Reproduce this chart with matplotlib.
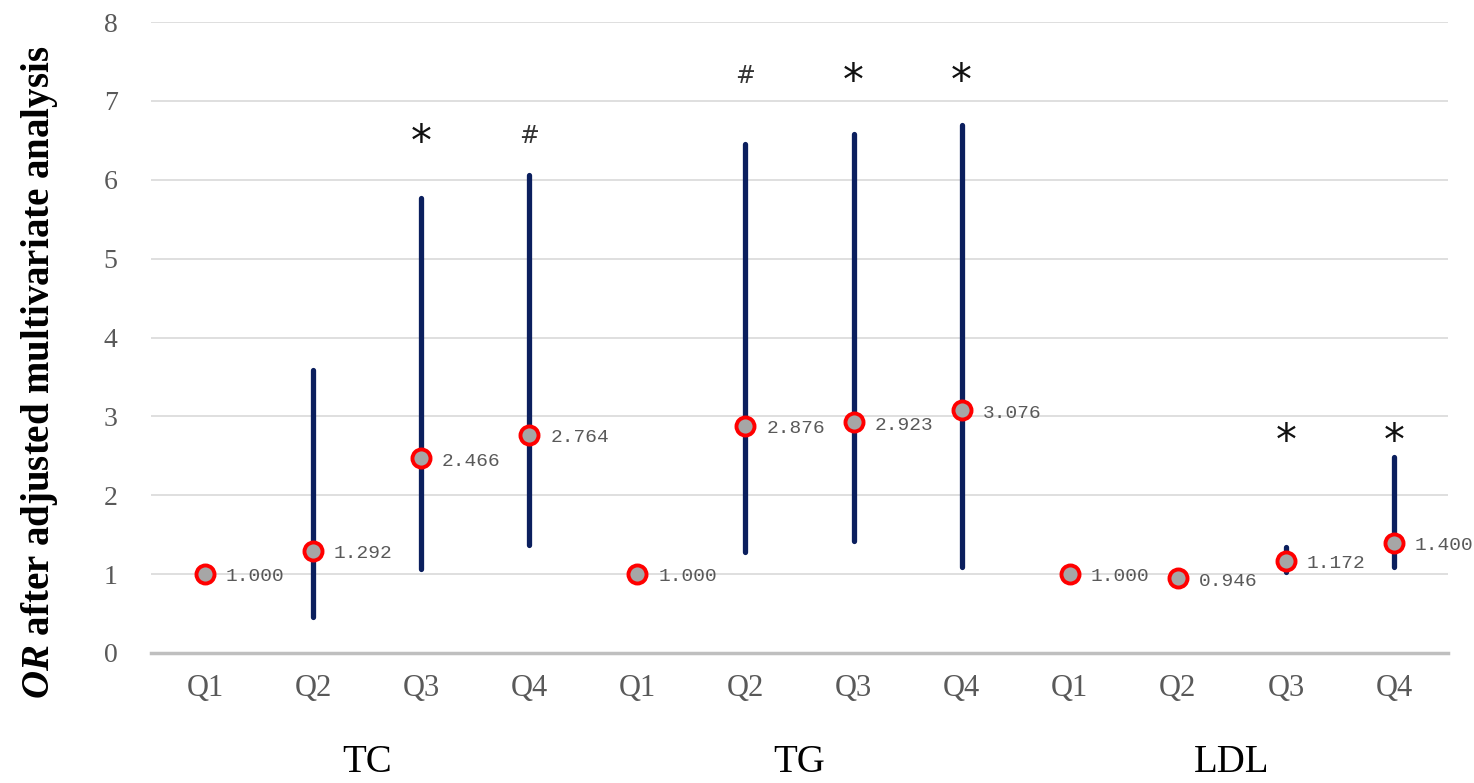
import matplotlib
matplotlib.use("Agg")
import matplotlib.pyplot as plt
import numpy as np

plt.rcParams['mathtext.fontset'] = 'custom'
plt.rcParams['mathtext.bfit'] = 'Liberation Serif:italic:bold'
plt.rcParams['mathtext.rm'] = 'Liberation Serif:bold'
plt.rcParams['mathtext.bf'] = 'Liberation Serif:bold'

# ---- data ----
groups = ["TC", "TG", "LDL"]
quartiles = ["Q1", "Q2", "Q3", "Q4"]
or_values = [1.000, 1.292, 2.466, 2.764,
             1.000, 2.876, 2.923, 3.076,
             1.000, 0.946, 1.172, 1.400]
ci_lower = [np.nan, 0.46, 1.06, 1.37,
            np.nan, 1.28, 1.42, 1.09,
            np.nan, np.nan, 1.03, 1.09]
ci_upper = [np.nan, 3.59, 5.77, 6.06,
            np.nan, 6.45, 6.58, 6.70,
            np.nan, np.nan, 1.35, 2.49]
signif = ["", "", "*", "#",
          "", "#", "*", "*",
          "", "", "*", "*"]
y_ticks = [0, 1, 2, 3, 4, 5, 6, 7, 8]

# ---- figure ----
fig = plt.figure(figsize=(14.74, 7.83), dpi=100)
ax = fig.add_axes([151/1474, 1 - 653/783, (1448-151)/1474, (653-22)/783])

n = len(or_values)
x = np.arange(n)
ax.set_xlim(-0.5, n - 0.5)
ax.set_ylim(0, 8)

ax.set_axisbelow(True)
ax.yaxis.grid(True, color='#D9D9D9', linewidth=1.2)
for s in ['top', 'right', 'left']:
    ax.spines[s].set_visible(False)
ax.spines['bottom'].set_color('#BFBFBF')
ax.spines['bottom'].set_linewidth(2.5)
ax.spines['bottom'].set_zorder(1)

# error bars (confidence intervals)
ax.vlines(x, ci_lower, ci_upper, colors='#0B1F5E', linewidth=3.8,
          capstyle='round', zorder=2)

# points
ax.plot(x, or_values, linestyle='none', marker='o', markersize=13,
        markerfacecolor='#A6A6A6', markeredgecolor='#FF0000',
        markeredgewidth=2.8, zorder=3)

# value labels
for xi, v in zip(x, or_values):
    ax.annotate(f"{v:.3f}", (xi, v), xytext=(15, -2), textcoords='offset points',
                ha='left', va='center', fontsize=14, color='#595959',
                family='Liberation Mono', zorder=4)

# significance marks
mark_height = {"TC": 6.6, "TG": 7.37, "LDL": 2.8}
for i, m in enumerate(signif):
    if not m:
        continue
    g = groups[i // len(quartiles)]
    if m == "*":
        ax.text(i, mark_height[g] - 0.13, "*", ha='center', va='center', fontsize=30,
                color='#111111', family='DejaVu Sans')
    else:
        ax.text(i, mark_height[g] - 0.05, "#", ha='center', va='center', fontsize=17,
                color='#333333', family='DejaVu Sans')

# ticks
ax.set_yticks(y_ticks)
ax.set_yticklabels([str(t) for t in y_ticks], family='Liberation Serif',
                   fontsize=20, color='#595959')
ax.set_xticks(x)
ax.set_xticklabels(quartiles * len(groups), family='Liberation Serif',
                   fontsize=22, color='#595959')
ax.tick_params(axis='y', length=0, pad=24)
ax.tick_params(axis='x', length=0, pad=15)

# group labels
gy = -(762 - 653) / (653 - 22)
for gi, g in enumerate(groups):
    cx = gi * len(quartiles) + 1.5
    ax.text(cx, gy, g, transform=ax.get_xaxis_transform(), ha='center',
            va='center', fontsize=28, family='Liberation Serif', color='#000000')

# y label
fig.text(40/1474, 1 - 372/783, r"$\mathbfit{OR}$ after adjusted multivariate analysis",
         rotation=90, ha='center', va='center', fontsize=28,
         family='Liberation Serif', fontweight='bold', color='#000000')

fig.savefig("out.png", dpi=100, facecolor='white')
